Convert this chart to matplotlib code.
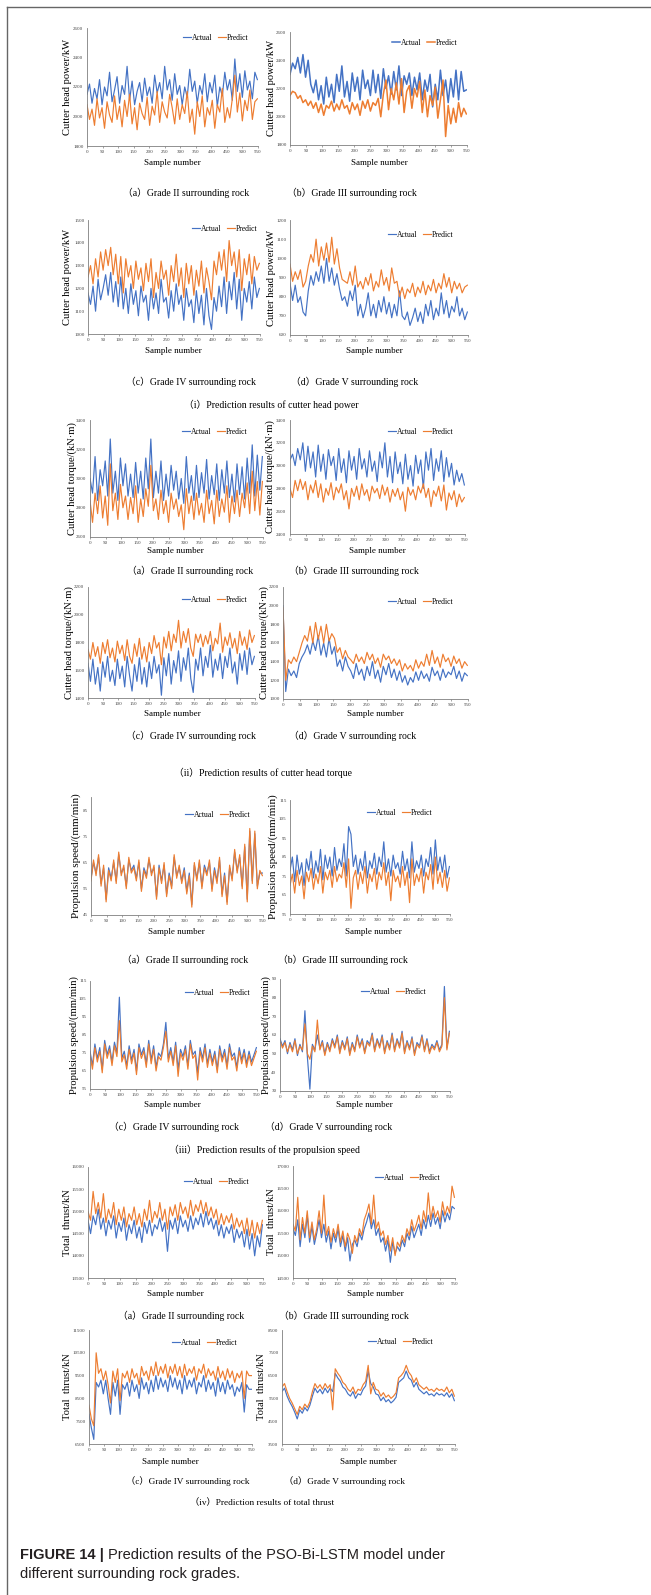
import numpy as np
import matplotlib
matplotlib.use('Agg')
import matplotlib.pyplot as plt
from matplotlib.lines import Line2D

# ---- data (every ~8 samples) ----
# (i) cutter head power, kW
pow2_act = [2150,2220,2090,2190,2120,2250,2080,2200,2140,2300,2100,2180,2270,2090,2210,2150,2340,2110,2240,2080,2170,2230,2100,2260,2140,2200,2090,2280,2160,2230,2120,2340,2180,2250,2110,2290,2150,2210,2080,2200,2130,2320,2170,2240,2090,2210,2150,2290,2100,2230,2160,2280,2070,2200,2140,2300,2180,2250,2110,2390,2170,2290,2130,2310,2180,2240,2120,2300,2250]
pow2_pre = [2080,1980,2050,1940,2120,1990,2060,1920,2100,2010,1960,2140,1980,2070,1930,2110,2000,2150,1950,2060,1910,2090,2020,1980,2130,1940,2070,2010,2170,1960,2100,2030,1990,2150,2060,1950,2120,1980,2080,2020,2170,1960,2050,1880,2100,2000,2140,1930,2060,2010,2110,1920,2080,2030,2190,1960,2060,1990,2120,2280,2030,2160,1970,2110,2040,2180,1980,2100,2120]
pow3_act = [2300,2380,2340,2420,2310,2440,2280,2400,2230,2170,2260,2120,2220,2090,2280,2140,2230,2100,2300,2180,2360,2140,2250,2110,2310,2180,2280,2120,2330,2200,2260,2150,2330,2170,2300,2130,2340,2200,2290,2160,2320,2190,2360,2150,2290,2230,2310,2150,2280,2190,2310,2120,2260,2180,2300,2070,2230,2120,2330,2150,2260,2100,2270,2140,2330,2120,2320,2180,2190]
pow3_pre = [2150,2180,2170,2130,2150,2100,2120,2080,2110,2060,2100,2030,2090,2010,2080,2060,2110,2040,2090,2050,2120,2060,2080,2020,2100,2050,2090,2010,2110,2060,2120,2040,2100,2080,2130,2000,2160,2260,2050,2200,2120,2240,2090,2270,2030,2180,2220,2060,2200,2140,2250,2030,2190,2000,2150,2080,2210,1990,2120,2260,1860,2080,1950,2060,1960,2100,2000,2060,2020]
pow4_act = [1180,1130,1210,1100,1240,1150,1200,1260,1170,1270,1140,1230,1120,1250,1110,1200,1090,1220,1130,1190,1080,1210,1140,1170,1060,1200,1110,1180,1090,1240,1140,1160,1070,1190,1100,1220,1130,1170,1060,1200,1120,1150,1050,1190,1090,1170,1040,1200,1080,1020,1160,1100,1210,1120,1250,1090,1230,1150,1270,1110,1240,1060,1200,1140,1230,1110,1250,1160,1200]
pow4_pre = [1250,1300,1220,1330,1250,1360,1280,1370,1300,1380,1260,1350,1220,1340,1180,1330,1250,1300,1200,1320,1240,1290,1190,1310,1230,1330,1160,1270,1200,1320,1240,1280,1170,1300,1230,1350,1210,1290,1160,1310,1220,1300,1170,1280,1210,1320,1180,1290,1230,1150,1320,1260,1360,1280,1370,1230,1410,1300,1360,1250,1370,1190,1330,1260,1350,1220,1340,1280,1310]
pow5_act = [870,780,860,770,800,720,700,830,910,860,930,880,960,870,1000,880,950,860,920,840,780,800,750,830,780,860,700,760,690,740,820,700,760,690,780,720,800,710,770,690,760,700,830,700,680,720,650,690,740,670,720,660,760,700,780,680,740,700,820,710,780,690,750,720,800,700,740,680,720]
pow5_pre = [970,880,930,890,940,850,880,960,1020,980,1100,960,1060,990,1080,980,1110,970,1050,950,890,880,870,930,860,960,850,880,840,900,860,920,830,880,850,940,860,900,830,950,870,880,800,850,790,840,820,870,800,850,820,880,810,860,830,890,820,870,840,920,850,900,820,880,840,870,820,850,860]

# (ii) cutter head torque, kN·m
tor2_act = [3000,2900,3150,2850,3060,2950,3120,2880,3270,2900,3050,2850,3140,2950,3100,2880,3030,2870,3110,2900,3050,2860,3140,2930,3270,2870,3050,2900,3120,2850,3030,2880,3090,2920,3050,2860,3000,2830,3150,2900,3020,2850,3090,2870,3040,2900,3130,2860,3020,2890,3100,2850,3060,2900,3120,2870,3030,2840,3100,2890,3080,2860,3140,2900,3230,2880,3160,2920,3150]
tor2_pre = [2850,2700,2900,2760,2950,2730,2880,2680,3100,2780,2900,2720,2960,2800,2880,2720,2870,2760,2950,2700,2860,2740,2930,2810,3090,2780,2860,2720,2920,2760,2850,2700,2900,2790,2860,2740,2820,2650,2930,2760,2880,2720,2900,2750,2830,2700,2920,2760,2850,2690,2920,2740,2860,2770,2950,2700,2880,2760,2920,2740,2900,2800,2970,2760,3050,2780,2980,2750,2980]
tor3_act = [3050,3100,3000,3150,3050,3200,2950,3170,2980,3120,2900,3180,2950,3100,2880,3140,3000,3080,2870,3150,2940,3060,2850,3130,2960,3080,2880,3150,2970,3060,2900,3130,2950,3040,2860,3120,2980,3200,2900,3080,2850,3120,2930,3030,2840,3100,2880,3000,2820,3090,2930,3050,2800,3120,2960,3150,2870,3060,2950,3130,2860,3070,2900,3020,2830,2960,2860,2930,2830]
tor3_pre = [2800,2720,2870,2780,2880,2790,2860,2700,2830,2760,2870,2720,2840,2680,2800,2740,2850,2700,2810,2760,2840,2700,2780,2620,2800,2730,2820,2700,2840,2740,2790,2690,2820,2760,2800,2710,2830,2740,2810,2680,2790,2730,2800,2700,2770,2600,2810,2740,2790,2700,2820,2760,2840,2720,2800,2640,2780,2730,2820,2690,2830,2610,2760,2700,2780,2640,2750,2680,2720]
tor4_act = [1650,1520,1680,1500,1620,1450,1660,1550,1700,1520,1600,1490,1680,1540,1630,1480,1700,1560,1450,1640,1520,1690,1500,1620,1480,1660,1540,1700,1580,1640,1420,1690,1560,1720,1500,1670,1580,1740,1520,1690,1600,1760,1540,1440,1680,1600,1760,1560,1700,1620,1780,1550,1680,1600,1720,1540,1700,1620,1760,1580,1660,1500,1720,1600,1740,1570,1760,1640,1700]
tor4_pre = [1750,1680,1800,1700,1770,1650,1800,1720,1820,1690,1760,1660,1810,1720,1780,1670,1820,1700,1650,1790,1700,1830,1680,1770,1660,1800,1720,1850,1760,1800,1640,1840,1760,1880,1740,1860,1800,1960,1760,1880,1800,1900,1760,1700,1860,1800,1860,1770,1850,1790,1880,1740,1830,1790,1940,1730,1840,1780,1870,1760,1830,1720,1880,1780,1840,1750,1890,1800,1850]
tor5_act = [2000,1080,1320,1250,1300,1230,1380,1450,1500,1580,1480,1620,1520,1680,1470,1600,1450,1650,1480,1560,1350,1420,1300,1450,1350,1300,1220,1380,1260,1320,1200,1350,1250,1400,1220,1310,1180,1350,1260,1380,1230,1320,1200,1300,1180,1250,1150,1230,1180,1290,1200,1300,1220,1270,1190,1340,1250,1300,1200,1320,1230,1290,1260,1350,1220,1300,1190,1280,1250]
tor5_pre = [1980,1200,1420,1380,1450,1400,1500,1600,1680,1620,1780,1600,1820,1640,1780,1600,1800,1620,1700,1650,1500,1550,1430,1520,1450,1420,1380,1480,1400,1450,1380,1500,1420,1480,1380,1440,1340,1480,1420,1460,1380,1430,1360,1420,1300,1380,1320,1360,1300,1420,1330,1400,1350,1480,1360,1520,1380,1450,1340,1480,1400,1440,1350,1460,1380,1430,1330,1400,1360]

# (iii) propulsion speed, mm/min
spd2_act = [59,65,61,67,57,63,51,63,59,65,58,68,61,63,56,66,62,64,59,65,55,63,60,66,61,63,52,64,58,64,53,61,56,67,60,63,58,63,54,61,49,64,59,65,56,64,61,65,55,63,58,66,53,61,50,63,59,69,62,67,56,71,51,77,58,76,56,61,61]
spd2_pre = [58,66,60,68,56,64,50,62,58,66,57,69,60,64,55,67,61,63,58,66,54,62,59,67,60,64,51,63,57,65,52,60,55,68,59,64,57,62,53,60,48,65,58,66,55,63,60,66,54,62,57,67,52,60,49,64,58,70,61,68,55,72,50,78,57,77,55,62,60]
spd3_act = [78,85,72,86,76,82,70,84,78,88,74,83,77,89,73,86,79,85,75,90,78,84,80,92,75,101,97,80,86,76,84,78,88,74,83,79,87,76,85,80,93,77,84,75,86,79,82,76,88,78,84,74,93,77,83,79,86,75,84,80,90,76,94,78,85,77,86,74,80]
spd3_pre = [70,76,66,78,70,75,63,77,72,79,68,76,71,80,66,77,73,78,69,80,72,76,74,82,69,84,58,74,78,68,77,71,80,66,76,72,79,68,77,73,82,70,77,62,78,72,75,69,80,70,77,61,84,70,76,72,79,66,77,73,81,68,85,71,77,69,78,67,74]
spd4_act = [76,68,80,72,78,66,82,74,79,70,81,75,106,72,76,68,79,71,77,65,80,74,78,69,82,71,79,67,75,73,80,92,72,78,70,81,66,77,73,79,68,82,74,76,64,78,72,80,69,77,70,76,66,79,72,77,68,80,73,75,67,78,71,77,69,76,70,74,78]
spd4_pre = [74,66,78,70,76,64,80,72,77,68,79,73,93,70,74,66,77,69,75,63,78,72,76,67,80,69,77,65,73,71,78,87,70,76,68,79,62,75,71,77,66,80,72,74,60,76,70,78,67,75,68,74,64,77,70,75,66,78,71,73,65,76,69,75,67,74,68,72,76]
spd5_act = [58,54,57,50,56,52,58,49,55,51,73,48,31,55,52,60,53,57,50,56,52,58,54,60,51,57,53,59,50,56,52,60,54,58,51,57,55,61,52,58,54,60,51,57,53,61,52,58,54,62,51,57,53,59,50,56,54,60,52,58,51,55,53,57,52,55,86,53,62]
spd5_pre = [57,53,56,51,55,51,57,50,54,52,66,50,47,54,51,68,52,56,49,55,51,57,53,59,50,56,52,58,49,55,51,59,53,57,50,56,54,60,51,57,53,59,50,56,52,60,51,57,53,61,50,56,52,58,49,55,53,59,51,57,50,54,52,56,51,54,80,52,61]

# (iv) total thrust, kN
thr2_act = [14800,14500,14900,14700,15050,14600,14850,14450,14800,14600,14900,14400,14750,14550,14850,14350,14700,14500,14800,14400,14650,14300,14750,14500,14800,14450,14700,14600,14850,14550,14750,14100,14800,14600,14850,14500,14900,14650,14800,14550,14900,14600,14850,14700,14950,14650,15000,14700,14850,14600,14800,14450,14700,14400,14650,14500,14700,14300,14600,14400,14550,14200,14600,14150,14500,14000,14450,14200,14700]
thr2_pre = [15000,14800,15450,14950,15200,14850,15400,14750,15050,14850,15200,14700,15050,14800,15100,14650,14950,14800,15100,14700,14950,14650,15050,14800,15250,14750,15000,14850,15200,14800,15050,14600,15100,14900,15150,14800,15200,14950,15100,14850,15250,14900,15150,15000,15250,14950,15200,14900,15100,14850,15050,14700,14950,14700,14900,14750,14950,14600,14850,14650,14800,14500,14850,14450,14800,14400,14750,14500,14800]
thr3_act = [15600,15450,15800,15200,15700,15400,15900,15300,15650,15250,15500,15800,15400,15700,15300,15550,15150,15500,15300,15600,15200,15450,15100,15400,14880,15250,15350,15200,15500,15350,15600,15750,15950,15600,15800,15450,15600,15300,15400,15100,15350,14850,15300,15050,15200,15100,15350,15200,15500,15350,15650,15400,15550,15700,15450,15800,15600,15900,15650,15950,15700,15850,15600,16000,15750,15950,15800,16100,16050]
thr3_pre = [15700,15550,16300,15350,15850,15500,16000,15400,15750,15350,15600,16000,15500,16350,15450,15650,15300,15600,15400,15700,15300,15550,15200,15500,15350,15050,15450,15300,15600,15450,15800,15950,16150,15700,16350,15600,15750,15450,15550,15250,15450,15100,15400,15000,15300,15200,15450,15300,15600,15450,15800,15550,15700,15900,15600,16000,15750,16400,15800,16100,15850,16000,15750,16200,15900,16100,15950,16550,16300]
thr4_act = [7800,7200,6700,9200,9000,9300,8700,9300,8500,7800,9200,8600,9300,7800,9100,8900,9200,8600,9300,8800,9100,8500,9400,8900,9200,8700,9300,8800,9500,8900,9400,9000,9300,8800,9500,9000,9400,8900,9300,8700,9500,8900,9300,9000,9400,8700,9200,9000,9500,8800,9300,8900,9200,8600,9400,8800,9200,8700,9300,8900,9100,8600,9000,8800,9200,7900,9100,8900,8900]
thr4_pre = [8200,7600,7300,10500,9600,9800,9300,9700,9100,8300,9700,9200,9800,8400,9600,9400,9700,9200,9800,9400,9600,9100,9900,9500,9700,9300,9900,9500,10100,9500,9900,9600,10000,9400,9900,9600,10000,9500,9900,9400,10000,9500,9800,9600,9900,9300,9800,9600,10000,9400,9800,9500,9700,9300,9900,9400,9700,9300,9800,9400,9700,9200,9600,9400,9700,8500,9700,9500,9500]
thr5_act = [5800,5950,5600,5350,5150,4900,4600,5000,4850,5100,4950,5200,5600,5950,5750,5900,5700,5950,5750,5950,5800,6600,6400,6250,6000,5900,5700,5600,5800,5500,5700,5650,5900,6050,6700,6150,6000,5700,5650,5400,5550,5350,5450,5300,5400,5550,6200,6300,6400,6700,6400,6300,6000,6200,5900,5800,5700,5800,5650,5700,5600,5750,5650,5700,5600,5750,5550,5700,5400]
thr5_pre = [6000,6150,5800,5500,5300,5050,4800,5150,5000,5250,5100,5350,5800,6150,5950,6100,5900,6150,5950,6100,5000,6800,6600,6450,6200,6100,5900,5800,6000,5700,5900,5850,6100,6250,6950,5700,6200,5900,5850,5600,5750,5550,5650,5500,5600,5750,6400,6500,6650,6950,6650,6500,6200,6400,6100,6000,5900,6000,5850,5900,5800,5950,5850,5900,5800,6000,5750,5900,5600]

sub_caps = ['（a）Grade II surrounding rock', '（b）Grade III surrounding rock',
            '（c）Grade IV surrounding rock', '（d）Grade V surrounding rock']
group_caps = ['（i）Prediction results of cutter head power',
              '（ii）Prediction results of cutter head torque',
              '（iii）Prediction results of the propulsion speed',
              '（iv）Prediction results of total thrust']
ylabels = ['Cutter head power/kW', 'Cutter head torque/(kN·m)',
           'Propulsion speed/(mm/min)', 'Total  thrust/kN']

W, H = 651, 1595
SERIF = ['Liberation Serif', 'Noto Sans CJK SC']
BLUE = '#4472C4'
ORANGE = '#ED7D31'

fig = plt.figure(figsize=(W / 100, H / 100), dpi=100)


def draw_panel(box, act, pre, ylim, ystep, ylabel, ylab_x, xlab_c, leg_c, ylab_size=7.6, lw=0.85):
    l, t, r, b = box
    ax = fig.add_axes([l / W, 1 - b / H, (r - l) / W, (b - t) / H])
    ax.plot(np.linspace(0, 548, len(act)), act, color=BLUE, lw=lw, label='Actual')
    ax.plot(np.linspace(0, 548, len(pre)), pre, color=ORANGE, lw=lw, label='Predict')
    ax.set_xlim(0, 550)
    ax.set_ylim(*ylim)
    ax.set_xticks(range(0, 551, 50))
    ax.set_yticks(np.arange(ylim[0], ylim[1] + 0.01, ystep))
    for s in ['top', 'right']:
        ax.spines[s].set_visible(False)
    for s in ['left', 'bottom']:
        ax.spines[s].set_color('#7f7f7f')
        ax.spines[s].set_linewidth(0.6)
    ax.tick_params(axis='x', length=1.5, width=0.5, pad=1.5, labelsize=3.6,
                   colors='#7f7f7f', labelcolor='#404040')
    ax.tick_params(axis='y', length=0, pad=2.5, labelsize=3.6, labelcolor='#404040')
    for lab in ax.get_xticklabels() + ax.get_yticklabels():
        lab.set_family(SERIF)
    ax.set_ylabel(ylabel, family=SERIF, size=ylab_size, va='center')
    ax.yaxis.set_label_coords((ylab_x - l) / (r - l), 0.5)
    ax.set_xlabel('Sample number', family=SERIF, size=6.5, va='center')
    ax.xaxis.set_label_coords((xlab_c[0] - l) / (r - l), (b - xlab_c[1]) / (b - t))
    ax.legend(loc='center', bbox_to_anchor=(leg_c[0] / W, 1 - leg_c[1] / H),
              bbox_transform=fig.transFigure, ncol=2, frameon=False,
              prop={'family': SERIF, 'size': 5.5}, handlelength=1.0,
              handletextpad=0.15, columnspacing=0.8, borderpad=0)
    return ax


def caption(x, y, s, size=7):
    fig.text(x / W, 1 - y / H, s, ha='center', va='center', family=SERIF, size=size)


# (i) cutter head power
draw_panel((87, 28, 258, 146), pow2_act, pow2_pre, (1800, 2600), 200, ylabels[0], 67, (172, 163), (216, 38))
draw_panel((290, 32, 467, 145), pow3_act, pow3_pre, (1800, 2600), 200, ylabels[0], 271, (379, 163), (425, 43), lw=1.1)
caption(186, 193, sub_caps[0]); caption(352, 193, sub_caps[1])
draw_panel((88, 220, 260, 334), pow4_act, pow4_pre, (1000, 1500), 100, ylabels[0], 67, (173, 351), (225, 229))
draw_panel((290, 220, 468, 335), pow5_act, pow5_pre, (600, 1200), 100, ylabels[0], 271, (374, 351), (421, 235))
caption(191, 382, sub_caps[2]); caption(355, 382, sub_caps[3])
caption(271, 405, group_caps[0])

# (ii) cutter head torque
draw_panel((90, 420, 263, 537), tor2_act, tor2_pre, (2600, 3400), 200, ylabels[1], 72, (175, 551), (215, 432))
draw_panel((290, 420, 465, 534), tor3_act, tor3_pre, (2400, 3400), 200, ylabels[1], 270, (377, 551), (421, 432))
caption(190, 571, sub_caps[0]); caption(354, 571, sub_caps[1])
draw_panel((88, 587, 255, 698), tor4_act, tor4_pre, (1400, 2200), 200, ylabels[1], 69, (172, 714), (215, 600))
draw_panel((283, 587, 468, 699), tor5_act, tor5_pre, (1000, 2200), 200, ylabels[1], 264, (375, 714), (421, 602))
caption(191, 736, sub_caps[2]); caption(353, 736, sub_caps[3])
caption(263, 773, group_caps[1])

# (iii) propulsion speed
draw_panel((91, 797, 263, 915), spd2_act, spd2_pre, (45, 90), 10, ylabels[2], 76, (176, 932), (218, 815), 8)
draw_panel((290, 800, 450, 914), spd3_act, spd3_pre, (55, 115), 10, ylabels[2], 273, (373, 932), (400, 813), 8)
caption(185, 960, sub_caps[0]); caption(343, 960, sub_caps[1])
draw_panel((90, 981, 257, 1089), spd4_act, spd4_pre, (55, 115), 10, ylabels[2], 74, (172, 1105), (218, 993))
draw_panel((280, 979, 450, 1091), spd5_act, spd5_pre, (30, 90), 10, ylabels[2], 266, (364, 1105), (394, 992))
caption(174, 1127, sub_caps[2]); caption(329, 1127, sub_caps[3])
caption(264, 1150, group_caps[2])

# (iv) total thrust
draw_panel((88, 1167, 263, 1278), thr2_act, thr2_pre, (13500, 16000), 500, ylabels[3], 67, (175, 1294), (217, 1182))
draw_panel((293, 1166, 455, 1278), thr3_act, thr3_pre, (14500, 17000), 500, ylabels[3], 271, (375, 1294), (408, 1178))
caption(181, 1316, sub_caps[0]); caption(344, 1316, sub_caps[1])
draw_panel((89, 1330, 252, 1444), thr4_act, thr4_pre, (6500, 11500), 1000, ylabels[3], 67, (170, 1462), (205, 1343))
draw_panel((282, 1330, 455, 1444), thr5_act, thr5_pre, (3500, 8500), 1000, ylabels[3], 261, (368, 1462), (401, 1342))
caption(188, 1481, sub_caps[2], 6.7); caption(344, 1481, sub_caps[3], 6.7)
caption(262, 1503, group_caps[3], 6.7)

# frame lines
fig.add_artist(Line2D([7 / W, 7 / W], [0, 1 - 7 / H], transform=fig.transFigure, color='#666666', lw=1))
fig.add_artist(Line2D([7 / W, 1], [1 - 7 / H, 1 - 7 / H], transform=fig.transFigure, color='#666666', lw=1))

# figure caption
t1 = fig.text(20 / W, 1 - 1555 / H, 'FIGURE 14 |', family='Liberation Sans', weight='bold',
              size=10.5, va='center', color='#231f20')
fig.canvas.draw()
bb = t1.get_window_extent()
fig.text((bb.x1 + 4) / W, 1 - 1555 / H, 'Prediction results of the PSO-Bi-LSTM model under',
         family='Liberation Sans', size=10.5, va='center', color='#231f20')
fig.text(20 / W, 1 - 1574 / H, 'different surrounding rock grades.',
         family='Liberation Sans', size=10.5, va='center', color='#231f20')

fig.savefig('out.png', dpi=100)
